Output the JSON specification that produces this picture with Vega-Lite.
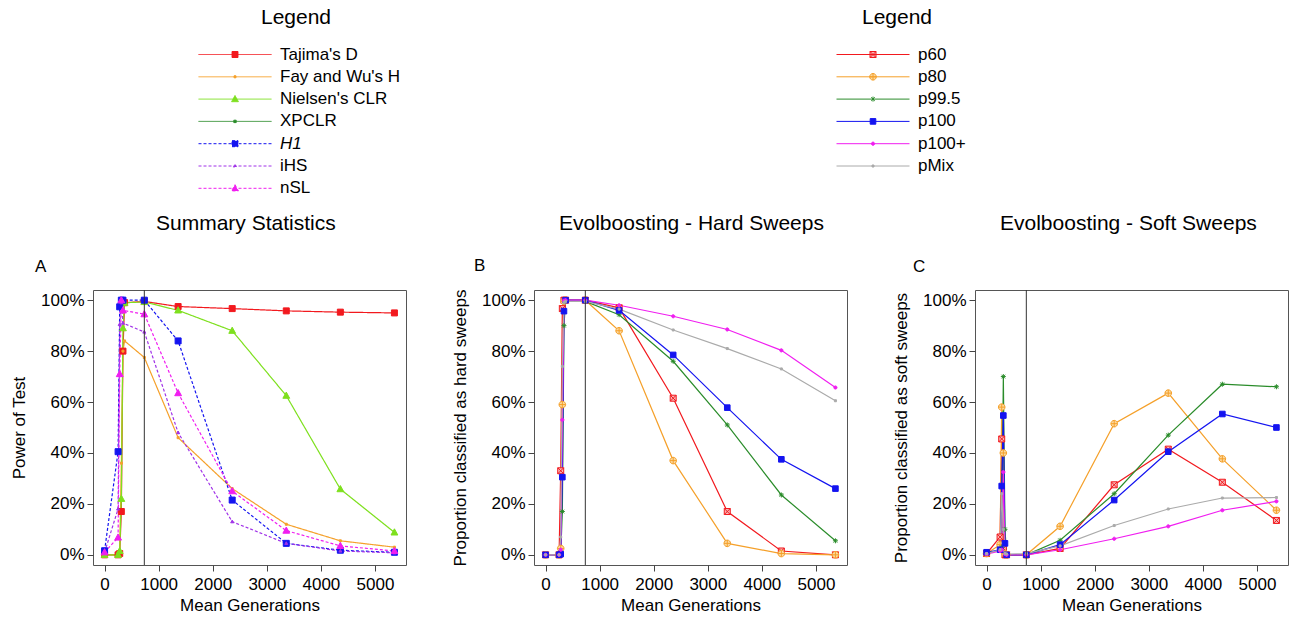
{
"$schema": "https://vega.github.io/schema/vega-lite/v6.json",
"padding": {"left": 10, "top": 4, "right": 5, "bottom": 2},
"data": {"name": "d", "values": [
{"p":"A","s":"Tajima's D","x":0,"y":0},{"p":"A","s":"Tajima's D","x":250,"y":0},{"p":"A","s":"Tajima's D","x":280,"y":0.005},{"p":"A","s":"Tajima's D","x":310,"y":0.17},{"p":"A","s":"Tajima's D","x":340,"y":0.80},{"p":"A","s":"Tajima's D","x":370,"y":0.99},{"p":"A","s":"Tajima's D","x":735,"y":0.995},{"p":"A","s":"Tajima's D","x":1360,"y":0.975},{"p":"A","s":"Tajima's D","x":2360,"y":0.967},{"p":"A","s":"Tajima's D","x":3360,"y":0.958},{"p":"A","s":"Tajima's D","x":4360,"y":0.953},{"p":"A","s":"Tajima's D","x":5360,"y":0.95},
{"p":"A","s":"Fay and Wu's H","x":0,"y":0},{"p":"A","s":"Fay and Wu's H","x":250,"y":0},{"p":"A","s":"Fay and Wu's H","x":280,"y":0.01},{"p":"A","s":"Fay and Wu's H","x":310,"y":0.36},{"p":"A","s":"Fay and Wu's H","x":340,"y":0.80},{"p":"A","s":"Fay and Wu's H","x":370,"y":0.84},{"p":"A","s":"Fay and Wu's H","x":735,"y":0.775},{"p":"A","s":"Fay and Wu's H","x":1360,"y":0.46},{"p":"A","s":"Fay and Wu's H","x":2360,"y":0.26},{"p":"A","s":"Fay and Wu's H","x":3360,"y":0.12},{"p":"A","s":"Fay and Wu's H","x":4360,"y":0.055},{"p":"A","s":"Fay and Wu's H","x":5360,"y":0.03},
{"p":"A","s":"Nielsen's CLR","x":0,"y":0},{"p":"A","s":"Nielsen's CLR","x":250,"y":0},{"p":"A","s":"Nielsen's CLR","x":280,"y":0.015},{"p":"A","s":"Nielsen's CLR","x":310,"y":0.22},{"p":"A","s":"Nielsen's CLR","x":340,"y":0.89},{"p":"A","s":"Nielsen's CLR","x":370,"y":0.99},{"p":"A","s":"Nielsen's CLR","x":735,"y":0.993},{"p":"A","s":"Nielsen's CLR","x":1360,"y":0.96},{"p":"A","s":"Nielsen's CLR","x":2360,"y":0.88},{"p":"A","s":"Nielsen's CLR","x":3360,"y":0.625},{"p":"A","s":"Nielsen's CLR","x":4360,"y":0.258},{"p":"A","s":"Nielsen's CLR","x":5360,"y":0.088},
{"p":"A","s":"H1","x":0,"y":0.016},{"p":"A","s":"H1","x":250,"y":0.405},{"p":"A","s":"H1","x":280,"y":0.974},{"p":"A","s":"H1","x":310,"y":1.0},{"p":"A","s":"H1","x":340,"y":1.0},{"p":"A","s":"H1","x":735,"y":1.0},{"p":"A","s":"H1","x":1360,"y":0.84},{"p":"A","s":"H1","x":2360,"y":0.215},{"p":"A","s":"H1","x":3360,"y":0.045},{"p":"A","s":"H1","x":4360,"y":0.018},{"p":"A","s":"H1","x":5360,"y":0.01},
{"p":"A","s":"iHS","x":0,"y":0.01},{"p":"A","s":"iHS","x":250,"y":0.18},{"p":"A","s":"iHS","x":280,"y":0.905},{"p":"A","s":"iHS","x":310,"y":0.99},{"p":"A","s":"iHS","x":340,"y":0.91},{"p":"A","s":"iHS","x":735,"y":0.875},{"p":"A","s":"iHS","x":1360,"y":0.48},{"p":"A","s":"iHS","x":2360,"y":0.13},{"p":"A","s":"iHS","x":3360,"y":0.045},{"p":"A","s":"iHS","x":4360,"y":0.015},{"p":"A","s":"iHS","x":5360,"y":0.008},
{"p":"A","s":"nSL","x":0,"y":0.01},{"p":"A","s":"nSL","x":250,"y":0.068},{"p":"A","s":"nSL","x":280,"y":0.71},{"p":"A","s":"nSL","x":310,"y":1.0},{"p":"A","s":"nSL","x":340,"y":0.96},{"p":"A","s":"nSL","x":735,"y":0.945},{"p":"A","s":"nSL","x":1360,"y":0.635},{"p":"A","s":"nSL","x":2360,"y":0.25},{"p":"A","s":"nSL","x":3360,"y":0.095},{"p":"A","s":"nSL","x":4360,"y":0.035},{"p":"A","s":"nSL","x":5360,"y":0.015},
{"p":"B","s":"p60","x":0,"y":0},{"p":"B","s":"p60","x":250,"y":0},{"p":"B","s":"p60","x":280,"y":0.33},{"p":"B","s":"p60","x":310,"y":0.967},{"p":"B","s":"p60","x":340,"y":1.0},{"p":"B","s":"p60","x":370,"y":1.0},{"p":"B","s":"p60","x":735,"y":1.0},{"p":"B","s":"p60","x":1360,"y":0.97},{"p":"B","s":"p60","x":2360,"y":0.615},{"p":"B","s":"p60","x":3360,"y":0.17},{"p":"B","s":"p60","x":4360,"y":0.015},{"p":"B","s":"p60","x":5360,"y":0.0},
{"p":"B","s":"p80","x":0,"y":0},{"p":"B","s":"p80","x":250,"y":0},{"p":"B","s":"p80","x":280,"y":0.025},{"p":"B","s":"p80","x":310,"y":0.59},{"p":"B","s":"p80","x":340,"y":0.995},{"p":"B","s":"p80","x":370,"y":1.0},{"p":"B","s":"p80","x":735,"y":1.0},{"p":"B","s":"p80","x":1360,"y":0.88},{"p":"B","s":"p80","x":2360,"y":0.37},{"p":"B","s":"p80","x":3360,"y":0.045},{"p":"B","s":"p80","x":4360,"y":0.005},{"p":"B","s":"p80","x":5360,"y":0.0},
{"p":"B","s":"p99.5","x":0,"y":0},{"p":"B","s":"p99.5","x":250,"y":0},{"p":"B","s":"p99.5","x":280,"y":0.005},{"p":"B","s":"p99.5","x":310,"y":0.17},{"p":"B","s":"p99.5","x":340,"y":0.90},{"p":"B","s":"p99.5","x":370,"y":1.0},{"p":"B","s":"p99.5","x":735,"y":0.995},{"p":"B","s":"p99.5","x":1360,"y":0.943},{"p":"B","s":"p99.5","x":2360,"y":0.76},{"p":"B","s":"p99.5","x":3360,"y":0.51},{"p":"B","s":"p99.5","x":4360,"y":0.235},{"p":"B","s":"p99.5","x":5360,"y":0.055},
{"p":"B","s":"p100","x":0,"y":0},{"p":"B","s":"p100","x":250,"y":0},{"p":"B","s":"p100","x":280,"y":0.003},{"p":"B","s":"p100","x":310,"y":0.305},{"p":"B","s":"p100","x":340,"y":0.957},{"p":"B","s":"p100","x":370,"y":1.0},{"p":"B","s":"p100","x":735,"y":1.0},{"p":"B","s":"p100","x":1360,"y":0.96},{"p":"B","s":"p100","x":2360,"y":0.785},{"p":"B","s":"p100","x":3360,"y":0.578},{"p":"B","s":"p100","x":4360,"y":0.375},{"p":"B","s":"p100","x":5360,"y":0.26},
{"p":"B","s":"p100+","x":0,"y":0},{"p":"B","s":"p100+","x":250,"y":0},{"p":"B","s":"p100+","x":280,"y":0.02},{"p":"B","s":"p100+","x":310,"y":0.53},{"p":"B","s":"p100+","x":340,"y":0.998},{"p":"B","s":"p100+","x":370,"y":1.0},{"p":"B","s":"p100+","x":735,"y":1.0},{"p":"B","s":"p100+","x":1360,"y":0.98},{"p":"B","s":"p100+","x":2360,"y":0.937},{"p":"B","s":"p100+","x":3360,"y":0.885},{"p":"B","s":"p100+","x":4360,"y":0.803},{"p":"B","s":"p100+","x":5360,"y":0.657},
{"p":"B","s":"pMix","x":0,"y":0},{"p":"B","s":"pMix","x":250,"y":0},{"p":"B","s":"pMix","x":280,"y":0.07},{"p":"B","s":"pMix","x":310,"y":0.74},{"p":"B","s":"pMix","x":340,"y":0.99},{"p":"B","s":"pMix","x":370,"y":0.995},{"p":"B","s":"pMix","x":735,"y":0.995},{"p":"B","s":"pMix","x":1360,"y":0.965},{"p":"B","s":"pMix","x":2360,"y":0.883},{"p":"B","s":"pMix","x":3360,"y":0.81},{"p":"B","s":"pMix","x":4360,"y":0.73},{"p":"B","s":"pMix","x":5360,"y":0.605},
{"p":"C","s":"p60","x":0,"y":0.005},{"p":"C","s":"p60","x":250,"y":0.07},{"p":"C","s":"p60","x":280,"y":0.455},{"p":"C","s":"p60","x":310,"y":0.025},{"p":"C","s":"p60","x":340,"y":0.0},{"p":"C","s":"p60","x":370,"y":0.0},{"p":"C","s":"p60","x":735,"y":0.0},{"p":"C","s":"p60","x":1360,"y":0.025},{"p":"C","s":"p60","x":2360,"y":0.275},{"p":"C","s":"p60","x":3360,"y":0.415},{"p":"C","s":"p60","x":4360,"y":0.285},{"p":"C","s":"p60","x":5360,"y":0.135},
{"p":"C","s":"p80","x":0,"y":0.005},{"p":"C","s":"p80","x":250,"y":0.04},{"p":"C","s":"p80","x":280,"y":0.58},{"p":"C","s":"p80","x":310,"y":0.40},{"p":"C","s":"p80","x":340,"y":0.005},{"p":"C","s":"p80","x":370,"y":0.0},{"p":"C","s":"p80","x":735,"y":0.0},{"p":"C","s":"p80","x":1360,"y":0.112},{"p":"C","s":"p80","x":2360,"y":0.515},{"p":"C","s":"p80","x":3360,"y":0.635},{"p":"C","s":"p80","x":4360,"y":0.377},{"p":"C","s":"p80","x":5360,"y":0.175},
{"p":"C","s":"p99.5","x":0,"y":0.005},{"p":"C","s":"p99.5","x":250,"y":0.02},{"p":"C","s":"p99.5","x":280,"y":0.03},{"p":"C","s":"p99.5","x":310,"y":0.70},{"p":"C","s":"p99.5","x":340,"y":0.10},{"p":"C","s":"p99.5","x":370,"y":0.0},{"p":"C","s":"p99.5","x":735,"y":0.0},{"p":"C","s":"p99.5","x":1360,"y":0.057},{"p":"C","s":"p99.5","x":2360,"y":0.24},{"p":"C","s":"p99.5","x":3360,"y":0.47},{"p":"C","s":"p99.5","x":4360,"y":0.67},{"p":"C","s":"p99.5","x":5360,"y":0.66},
{"p":"C","s":"p100","x":0,"y":0.01},{"p":"C","s":"p100","x":250,"y":0.02},{"p":"C","s":"p100","x":280,"y":0.27},{"p":"C","s":"p100","x":310,"y":0.547},{"p":"C","s":"p100","x":340,"y":0.045},{"p":"C","s":"p100","x":370,"y":0.0},{"p":"C","s":"p100","x":735,"y":0.0},{"p":"C","s":"p100","x":1360,"y":0.04},{"p":"C","s":"p100","x":2360,"y":0.215},{"p":"C","s":"p100","x":3360,"y":0.405},{"p":"C","s":"p100","x":4360,"y":0.553},{"p":"C","s":"p100","x":5360,"y":0.50},
{"p":"C","s":"p100+","x":0,"y":0.003},{"p":"C","s":"p100+","x":250,"y":0.015},{"p":"C","s":"p100+","x":280,"y":0.02},{"p":"C","s":"p100+","x":310,"y":0.325},{"p":"C","s":"p100+","x":340,"y":0.003},{"p":"C","s":"p100+","x":370,"y":0.0},{"p":"C","s":"p100+","x":735,"y":0.0},{"p":"C","s":"p100+","x":1360,"y":0.02},{"p":"C","s":"p100+","x":2360,"y":0.063},{"p":"C","s":"p100+","x":3360,"y":0.112},{"p":"C","s":"p100+","x":4360,"y":0.175},{"p":"C","s":"p100+","x":5360,"y":0.21},
{"p":"C","s":"pMix","x":0,"y":0.005},{"p":"C","s":"pMix","x":250,"y":0.02},{"p":"C","s":"pMix","x":280,"y":0.24},{"p":"C","s":"pMix","x":310,"y":0.10},{"p":"C","s":"pMix","x":340,"y":0.005},{"p":"C","s":"pMix","x":370,"y":0.003},{"p":"C","s":"pMix","x":735,"y":0.005},{"p":"C","s":"pMix","x":1360,"y":0.035},{"p":"C","s":"pMix","x":2360,"y":0.115},{"p":"C","s":"pMix","x":3360,"y":0.18},{"p":"C","s":"pMix","x":4360,"y":0.223},{"p":"C","s":"pMix","x":5360,"y":0.225}
]},
"bounds": "flush",
"spacing": 282,
"vconcat": [
{
"width": 1, "height": 1,
"view": {"stroke": null},
"layer": [
{"transform": [{"filter": "datum.p == 'A'"}],
 "mark": {"type": "point", "opacity": 0, "filled": true},
 "encoding": {"fill": {"field": "s", "type": "nominal",
   "scale": {"domain": ["Tajima's D","Fay and Wu's H","Nielsen's CLR","XPCLR","H1","iHS","nSL"], "range": ["#f2191e","#f5a02a","#7ee01e","#2a8c2a","#1414f0","#a033e8","#f01ef0"]},
   "legend": {"title": "Legend", "orient": "none", "legendX": 98, "legendY": 0, "values": ["Tajima's D","Fay and Wu's H","Nielsen's CLR","XPCLR","H1","iHS","nSL"],
     "symbolOpacity": 1,
     "symbolStrokeWidth": 1,
     "labelFontStyle": {"expr": "datum.label == 'H1' ? 'italic' : 'normal'"},
     "symbolType": {"expr": "['M-36.5,0H36.5M-3,-3H3V3H-3Z','M-36.5,0H36.5M-1,-1H1V1H-1Z','M-36.5,0H36.5M0,-3.6L3.4,2.6L-3.4,2.6Z','M-36.5,0H36.5M-1.2,-1.2H1.2V1.2H-1.2Z','M-36.5,0H36.5M-3,-3H3V3H-3Z','M-36.5,0H36.5M0,-1.6L1.5,1.1L-1.5,1.1Z','M-36.5,0H36.5M0,-3.6L3.4,2.6L-3.4,2.6Z'][datum.index]"},
     "symbolStrokeColor": {"expr": "['#f2191e','#f5a02a','#7ee01e','#2a8c2a','#1414f0','#a033e8','#f01ef0'][datum.index]"},
     "symbolDash": {"expr": "[[1,0],[1,0],[1,0],[1,0],[3,2],[3,2],[3,2]][datum.index]"}
   }}}
},
{"transform": [{"filter": "datum.p == 'B'"}],
 "mark": {"type": "point", "opacity": 0, "filled": true},
 "encoding": {"fill": {"field": "s", "type": "nominal",
   "scale": {"domain": ["p60","p80","p99.5","p100","p100+","pMix"], "range": ["#f8b4b4","#fbd9a0","transparent","#1414f0","#f01ef0","#aaaaaa"]},
   "legend": {"title": "Legend", "orient": "none", "legendX": 736, "legendY": 0, "values": ["p60","p80","p99.5","p100","p100+","pMix"],
     "symbolOpacity": 1,
     "symbolStrokeWidth": 1,
     "symbolType": {"expr": "['M-36.5,0H36.5M-3,-3H3V3H-3ZM-3,-3L3,3M3,-3L-3,3','M-36.5,0H36.5M-3.3,0A3.3,3.3,0,1,1,3.3,0A3.3,3.3,0,1,1,-3.3,0ZM-3.3,0H3.3M0,-3.3V3.3','M-36.5,0H36.5M0,-2.5V2.5M-1.8,-1.8L1.8,1.8M1.8,-1.8L-1.8,1.8','M-36.5,0H36.5M-2.8,-2.8H2.8V2.8H-2.8Z','M-36.5,0H36.5M-1.6,0A1.6,1.6,0,1,1,1.6,0A1.6,1.6,0,1,1,-1.6,0Z','M-36.5,0H36.5M-1,-1H1V1H-1Z'][datum.index]"},
     "symbolStrokeColor": {"expr": "['#f2191e','#f5a02a','#2a8c2a','#1414f0','#f01ef0','#aaaaaa'][datum.index]"}
   }}}
}
],
"resolve": {"scale": {"fill": "independent"}, "legend": {"fill": "independent"}}
},
{
"hconcat": [
{"title": {"text": "Summary Statistics", "offset": 23, "anchor": "start", "dx": 63},
 "vconcat": [{
  "width": 313, "height": 275,
  "title": {"text": "A", "anchor": "start", "dx": -58, "fontSize": 17, "offset": 14},
  "layer": [
   {"transform": [{"filter": "datum.p == 'A'"}],
    "mark": {"type": "line", "strokeWidth": 1.2},
    "encoding": {
     "x": {"field": "x", "type": "quantitative", "scale": {"domain": [-214, 5574], "nice": false, "zero": false}, "axis": {"title": "Mean Generations", "values": [0,1000,2000,3000,4000,5000], "format": "d"}},
     "y": {"field": "y", "type": "quantitative", "scale": {"domain": [-0.04, 1.04], "nice": false, "zero": false}, "axis": {"title": "Power of Test", "values": [0,0.2,0.4,0.6,0.8,1], "format": ".0%"}},
     "stroke": {"field": "s", "type": "nominal", "legend": null, "scale": {"domain": ["Tajima's D","Fay and Wu's H","Nielsen's CLR","XPCLR","H1","iHS","nSL"], "range": ["#f2191e","#f5a02a","#7ee01e","#2a8c2a","#1414f0","#a033e8","#f01ef0"]}},
     "strokeDash": {"field": "s", "type": "nominal", "legend": null, "scale": {"domain": ["Tajima's D","Fay and Wu's H","Nielsen's CLR","XPCLR","H1","iHS","nSL"], "range": [[1,0],[1,0],[1,0],[1,0],[3,2],[3,2],[3,2]]}}
    }},
   {"transform": [{"filter": "datum.p == 'A'"}],
    "mark": {"type": "point", "size": 4, "strokeWidth": 1, "opacity": 1, "filled": true},
    "encoding": {
     "x": {"field": "x", "type": "quantitative"},
     "y": {"field": "y", "type": "quantitative"},
     "stroke": {"field": "s", "type": "nominal", "legend": null, "scale": {"domain": ["Tajima's D","Fay and Wu's H","Nielsen's CLR","XPCLR","H1","iHS","nSL"], "range": ["#f2191e","#f5a02a","#7ee01e","#2a8c2a","#1414f0","#a033e8","#f01ef0"]}},
     "fill": {"field": "s", "type": "nominal", "legend": null, "scale": {"domain": ["Tajima's D","Fay and Wu's H","Nielsen's CLR","XPCLR","H1","iHS","nSL"], "range": ["#f2191e","#f5a02a","#7ee01e","#2a8c2a","#1414f0","#a033e8","#f01ef0"]}},
     "shape": {"field": "s", "type": "nominal", "legend": null, "scale": {"domain": ["Tajima's D","Fay and Wu's H","Nielsen's CLR","XPCLR","H1","iHS","nSL"], "range": ["M-3,-3H3V3H-3Z","M-1,-1H1V1H-1Z","M0,-3.6L3.4,2.6L-3.4,2.6Z","M-1.2,-1.2H1.2V1.2H-1.2Z","M-3,-3H3V3H-3Z","M0,-1.6L1.5,1.1L-1.5,1.1Z","M0,-3.6L3.4,2.6L-3.4,2.6Z"]}}
    }},
   {"data": {"values": [{"v": 735}]},
    "mark": {"type": "rule", "color": "#333333", "strokeWidth": 1},
    "encoding": {"x": {"field": "v", "type": "quantitative"}}}
  ]
 }]
},
{"title": {"text": "Evolboosting - Hard Sweeps", "offset": 23, "anchor": "start", "dx": 25},
 "vconcat": [{
  "width": 313, "height": 275,
  "title": {"text": "B", "anchor": "start", "dx": -60, "fontSize": 17, "offset": 14},
  "layer": [
   {"transform": [{"filter": "datum.p == 'B'"}],
    "mark": {"type": "line", "strokeWidth": 1.2},
    "encoding": {
     "x": {"field": "x", "type": "quantitative", "scale": {"domain": [-214, 5574], "nice": false, "zero": false}, "axis": {"title": "Mean Generations", "values": [0,1000,2000,3000,4000,5000], "format": "d"}},
     "y": {"field": "y", "type": "quantitative", "scale": {"domain": [-0.04, 1.04], "nice": false, "zero": false}, "axis": {"title": "Proportion classified as hard sweeps", "values": [0,0.2,0.4,0.6,0.8,1], "format": ".0%"}},
     "stroke": {"field": "s", "type": "nominal", "legend": null, "scale": {"domain": ["p60","p80","p99.5","p100","p100+","pMix"], "range": ["#f2191e","#f5a02a","#2a8c2a","#1414f0","#f01ef0","#aaaaaa"]}}
    }},
   {"transform": [{"filter": "datum.p == 'B'"}],
    "mark": {"type": "point", "size": 4, "strokeWidth": 1, "opacity": 1, "filled": true},
    "encoding": {
     "x": {"field": "x", "type": "quantitative"},
     "y": {"field": "y", "type": "quantitative"},
     "stroke": {"field": "s", "type": "nominal", "legend": null, "scale": {"domain": ["p60","p80","p99.5","p100","p100+","pMix"], "range": ["#f2191e","#f5a02a","#2a8c2a","#1414f0","#f01ef0","#aaaaaa"]}},
     "fill": {"field": "s", "type": "nominal", "legend": null, "scale": {"domain": ["p60","p80","p99.5","p100","p100+","pMix"], "range": ["#f8b4b4","#fbd9a0","transparent","#1414f0","#f01ef0","#aaaaaa"]}},
     "shape": {"field": "s", "type": "nominal", "legend": null, "scale": {"domain": ["p60","p80","p99.5","p100","p100+","pMix"], "range": ["M-3,-3H3V3H-3ZM-3,-3L3,3M3,-3L-3,3","M-3.3,0A3.3,3.3,0,1,1,3.3,0A3.3,3.3,0,1,1,-3.3,0ZM-3.3,0H3.3M0,-3.3V3.3","M-2.5,0H2.5M0,-2.5V2.5M-1.8,-1.8L1.8,1.8M1.8,-1.8L-1.8,1.8","M-2.8,-2.8H2.8V2.8H-2.8Z","M-1.6,0A1.6,1.6,0,1,1,1.6,0A1.6,1.6,0,1,1,-1.6,0Z","M-1,-1H1V1H-1Z"]}}
    }},
   {"data": {"values": [{"v": 735}]},
    "mark": {"type": "rule", "color": "#333333", "strokeWidth": 1},
    "encoding": {"x": {"field": "v", "type": "quantitative"}}}
  ]
 }]
},
{"title": {"text": "Evolboosting - Soft Sweeps", "offset": 23, "anchor": "start", "dx": 25},
 "vconcat": [{
  "width": 313, "height": 275,
  "title": {"text": "C", "anchor": "start", "dx": -62, "fontSize": 17, "offset": 14},
  "layer": [
   {"transform": [{"filter": "datum.p == 'C'"}],
    "mark": {"type": "line", "strokeWidth": 1.2},
    "encoding": {
     "x": {"field": "x", "type": "quantitative", "scale": {"domain": [-214, 5574], "nice": false, "zero": false}, "axis": {"title": "Mean Generations", "values": [0,1000,2000,3000,4000,5000], "format": "d"}},
     "y": {"field": "y", "type": "quantitative", "scale": {"domain": [-0.04, 1.04], "nice": false, "zero": false}, "axis": {"title": "Proportion classified as soft sweeps", "values": [0,0.2,0.4,0.6,0.8,1], "format": ".0%"}},
     "stroke": {"field": "s", "type": "nominal", "legend": null, "scale": {"domain": ["p60","p80","p99.5","p100","p100+","pMix"], "range": ["#f2191e","#f5a02a","#2a8c2a","#1414f0","#f01ef0","#aaaaaa"]}}
    }},
   {"transform": [{"filter": "datum.p == 'C'"}],
    "mark": {"type": "point", "size": 4, "strokeWidth": 1, "opacity": 1, "filled": true},
    "encoding": {
     "x": {"field": "x", "type": "quantitative"},
     "y": {"field": "y", "type": "quantitative"},
     "stroke": {"field": "s", "type": "nominal", "legend": null, "scale": {"domain": ["p60","p80","p99.5","p100","p100+","pMix"], "range": ["#f2191e","#f5a02a","#2a8c2a","#1414f0","#f01ef0","#aaaaaa"]}},
     "fill": {"field": "s", "type": "nominal", "legend": null, "scale": {"domain": ["p60","p80","p99.5","p100","p100+","pMix"], "range": ["#f8b4b4","#fbd9a0","transparent","#1414f0","#f01ef0","#aaaaaa"]}},
     "shape": {"field": "s", "type": "nominal", "legend": null, "scale": {"domain": ["p60","p80","p99.5","p100","p100+","pMix"], "range": ["M-3,-3H3V3H-3ZM-3,-3L3,3M3,-3L-3,3","M-3.3,0A3.3,3.3,0,1,1,3.3,0A3.3,3.3,0,1,1,-3.3,0ZM-3.3,0H3.3M0,-3.3V3.3","M-2.5,0H2.5M0,-2.5V2.5M-1.8,-1.8L1.8,1.8M1.8,-1.8L-1.8,1.8","M-2.8,-2.8H2.8V2.8H-2.8Z","M-1.6,0A1.6,1.6,0,1,1,1.6,0A1.6,1.6,0,1,1,-1.6,0Z","M-1,-1H1V1H-1Z"]}}
    }},
   {"data": {"values": [{"v": 735}]},
    "mark": {"type": "rule", "color": "#333333", "strokeWidth": 1},
    "encoding": {"x": {"field": "v", "type": "quantitative"}}}
  ]
 }]
}
],
"spacing": 44,
"resolve": {"scale": {"x": "independent", "y": "independent", "stroke": "independent", "fill": "independent", "shape": "independent", "strokeDash": "independent"}}
}
],
"resolve": {"scale": {"fill": "independent"}},
"config": {
 "font": "Liberation Sans",
 "view": {"stroke": "#555555", "strokeWidth": 1},
 "axis": {"domain": false, "grid": false, "tickColor": "#444444", "tickSize": 6, "tickWidth": 1, "labelFont": "Liberation Sans", "labelFontSize": 17, "labelColor": "#000000", "titleFont": "Liberation Sans", "titleFontSize": 17, "titleFontWeight": "normal", "titleColor": "#000000", "labelPadding": 3, "titlePadding": 7, "labelBound": false, "labelOverlap": false},
 "axisX": {"labelPadding": 5, "titlePadding": 5},
 "axisY": {"titlePadding": 12},
 "title": {"font": "Liberation Sans", "fontSize": 21, "fontWeight": "normal", "color": "#000000", "anchor": "middle", "frame": "group"},
 "legend": {"labelFont": "Liberation Sans", "labelFontSize": 17, "labelColor": "#000000", "titleFont": "Liberation Sans", "titleFontSize": 21, "titleFontWeight": "normal", "titleColor": "#000000", "titleAnchor": "middle", "titlePadding": 18, "symbolSize": 4, "symbolOffset": 35.5, "labelOffset": 36.5, "rowPadding": 4.3, "padding": 0}
}
}
